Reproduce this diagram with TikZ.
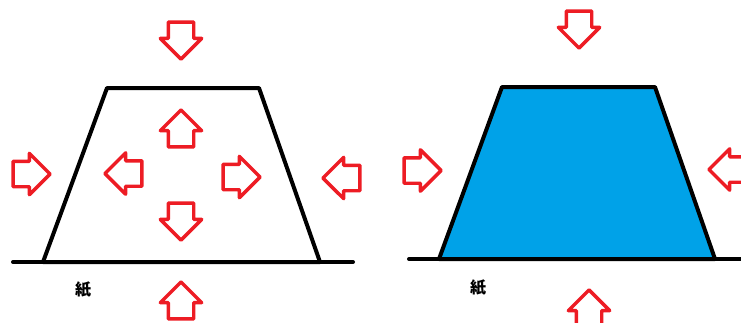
\documentclass[tikz,border=0pt]{standalone}
\usepackage{fontspec}
\newfontfamily\jp{Noto Sans CJK JP}
\usetikzlibrary{shapes.arrows}
\definecolor{paintred}{HTML}{ED1C24}
\definecolor{paintblue}{HTML}{00A2E8}
\tikzset{
  blk/.style  ={draw=paintred,line width=3.4pt,line join=round,single arrow,
                minimum height=37pt,inner xsep=4pt,inner ysep=11pt,
                single arrow head extend=8pt,anchor=tip},
  trap/.style ={draw=black,line width=4pt,line join=round},
  base/.style ={draw=black,line width=4pt,line cap=round},
  lbl/.style  ={font=\jp\bfseries\fontsize{16pt}{16pt}\selectfont,inner sep=0pt},
}
\begin{document}
\begin{tikzpicture}[x=1pt,y=-1pt]
\useasboundingbox (0,0) rectangle (741,322);
% left: empty trapezoid
\draw[trap] (107,88) -- (259,88) -- (320,262) -- (43,262) -- cycle;
\draw[base] (13,262) -- (353,262);
\node[lbl] (paperL) at (83,290) {紙};
\node[blk,rotate=-90] (topL)    at (181,61.5)  {};
\node[blk,rotate=90]  (upIn)    at (181,107.5) {};
\node[blk]            (leftL)   at (52.5,174)  {};
\node[blk,rotate=180] (leftIn)  at (102.5,173.5) {};
\node[blk]            (rightIn) at (262.5,177) {};
\node[blk,rotate=180] (rightL)  at (320.5,178) {};
\node[blk,rotate=-90] (downIn)  at (181,242.5) {};
\node[blk,rotate=90]  (botL)    at (181,279.5) {};
% right: filled trapezoid
\filldraw[trap,fill=paintblue] (502,87) -- (655,87) -- (715,259) -- (439,259) -- cycle;
\draw[base] (409,259) -- (745,259);
\node[lbl] (paperR) at (478,288) {紙};
\node[blk,rotate=-90] (topR)   at (579,50.5)  {};
\node[blk]            (leftR)  at (443.5,170.5) {};
\node[blk,rotate=180] (rightR) at (706.5,169.5) {};
\node[blk,rotate=90]  (botR)   at (589,287.5) {};
\end{tikzpicture}
\end{document}
